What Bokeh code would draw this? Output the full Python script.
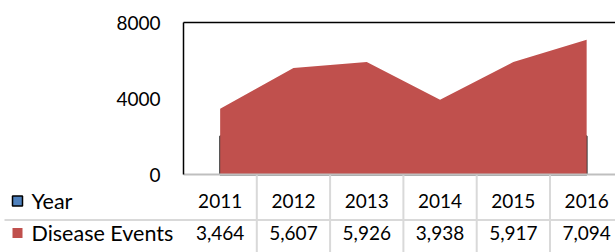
from bokeh.plotting import figure
from bokeh.models import Range1d
from bokeh.core.properties import value
from bokeh.embed import file_html
from bokeh.resources import INLINE

# ---- data ----
years = ["2011", "2012", "2013", "2014", "2015", "2016"]
year_values = [2011, 2012, 2013, 2014, 2015, 2016]
disease_events = [3464, 5607, 5926, 3938, 5917, 7094]
y_ticks = [0, 4000, 8000]
series_names = ["Year", "Disease Events"]
series_colors = ["#4F81BD", "#C0504D"]

# ---- layout helpers (image pixel -> data) ----
W, H = 615, 252
OFF = 0
X0 = 183.0          # image x of plot-area left edge
COL = 73.3          # pixel width of one category column
Y0 = 174.0          # image y of value 0
PXU = 19.0 / 1000   # pixels per value unit

def xd(px):
    return (px - X0) / COL

def yd(py):
    return (Y0 - py) / PXU

FONT = value("Lato")
FS = "19px"
FS_LABEL = "21.5px"

p = figure(width=W, height=H, output_backend="svg", toolbar_location=None,
           x_range=Range1d(xd(OFF), xd(OFF + W)),
           y_range=Range1d(yd(OFF + H), yd(OFF)),
           x_axis_location=None, y_axis_location=None,
           min_border=0, outline_line_color=None)
p.grid.visible = False
p.background_fill_color = "white"

n = len(years)
xs = [i + 0.5 for i in range(n)]

# Year series area (mostly hidden behind the red area)
p.patch([xs[0]] + xs + [xs[-1]], [0] + year_values + [0],
        fill_color=series_colors[0], line_color="#3a3a3a", line_width=2)
# Disease events area
p.varea(x=xs, y1=[0] * n, y2=disease_events, fill_color=series_colors[1])

y_top = y_ticks[-1]
bottom = yd(OFF + H + 5)
right = xd(OFF + W + 5)

# table grid
p.segment(x0=list(range(1, n + 1)), y0=[0] * n, x1=list(range(1, n + 1)), y1=[bottom] * n,
          line_color="#d9d9d9", line_width=2)
row_div = yd(219.5)
p.segment(x0=[xd(4)], y0=[row_div], x1=[right], y1=[row_div], line_color="#d9d9d9", line_width=2)

# plot area borders
p.segment(x0=[0], y0=[0], x1=[right], y1=[0], line_color="#bfbfbf", line_width=2)
p.segment(x0=[0], y0=[0], x1=[0], y1=[y_top], line_color="black", line_width=1.5)
p.segment(x0=[0], y0=[y_top], x1=[right], y1=[y_top], line_color="black", line_width=1.5)

# y tick labels
p.text(x=[xd(160)] * len(y_ticks), y=y_ticks, text=[str(t) for t in y_ticks],
       text_align="right", text_baseline="middle", text_font=FONT,
       text_font_size=FS, text_color="black")

# data table
row1 = yd(200.5)
row2 = yd(232.5)
p.text(x=xs, y=[row1] * n, text=years, text_align="center", text_baseline="middle",
       text_font=FONT, text_font_size=FS, text_color="black")
p.text(x=xs, y=[row2] * n, text=[f"{v:,}" for v in disease_events],
       text_align="center", text_baseline="middle",
       text_font=FONT, text_font_size=FS, text_color="black")

# legend keys in the table
p.rect(x=[xd(17)], y=[row1], width=10 / COL, height=10 / PXU,
       fill_color=series_colors[0], line_color="black", line_width=1.5)
p.rect(x=[xd(17)], y=[row2], width=10 / COL, height=10 / PXU,
       fill_color=series_colors[1], line_color=None)
p.text(x=[xd(31)] * 2, y=[row1, row2], text=series_names,
       text_align="left", text_baseline="middle",
       text_font=FONT, text_font_size=FS_LABEL, text_color="black")

open("out.html", "w").write(file_html(p, INLINE))
